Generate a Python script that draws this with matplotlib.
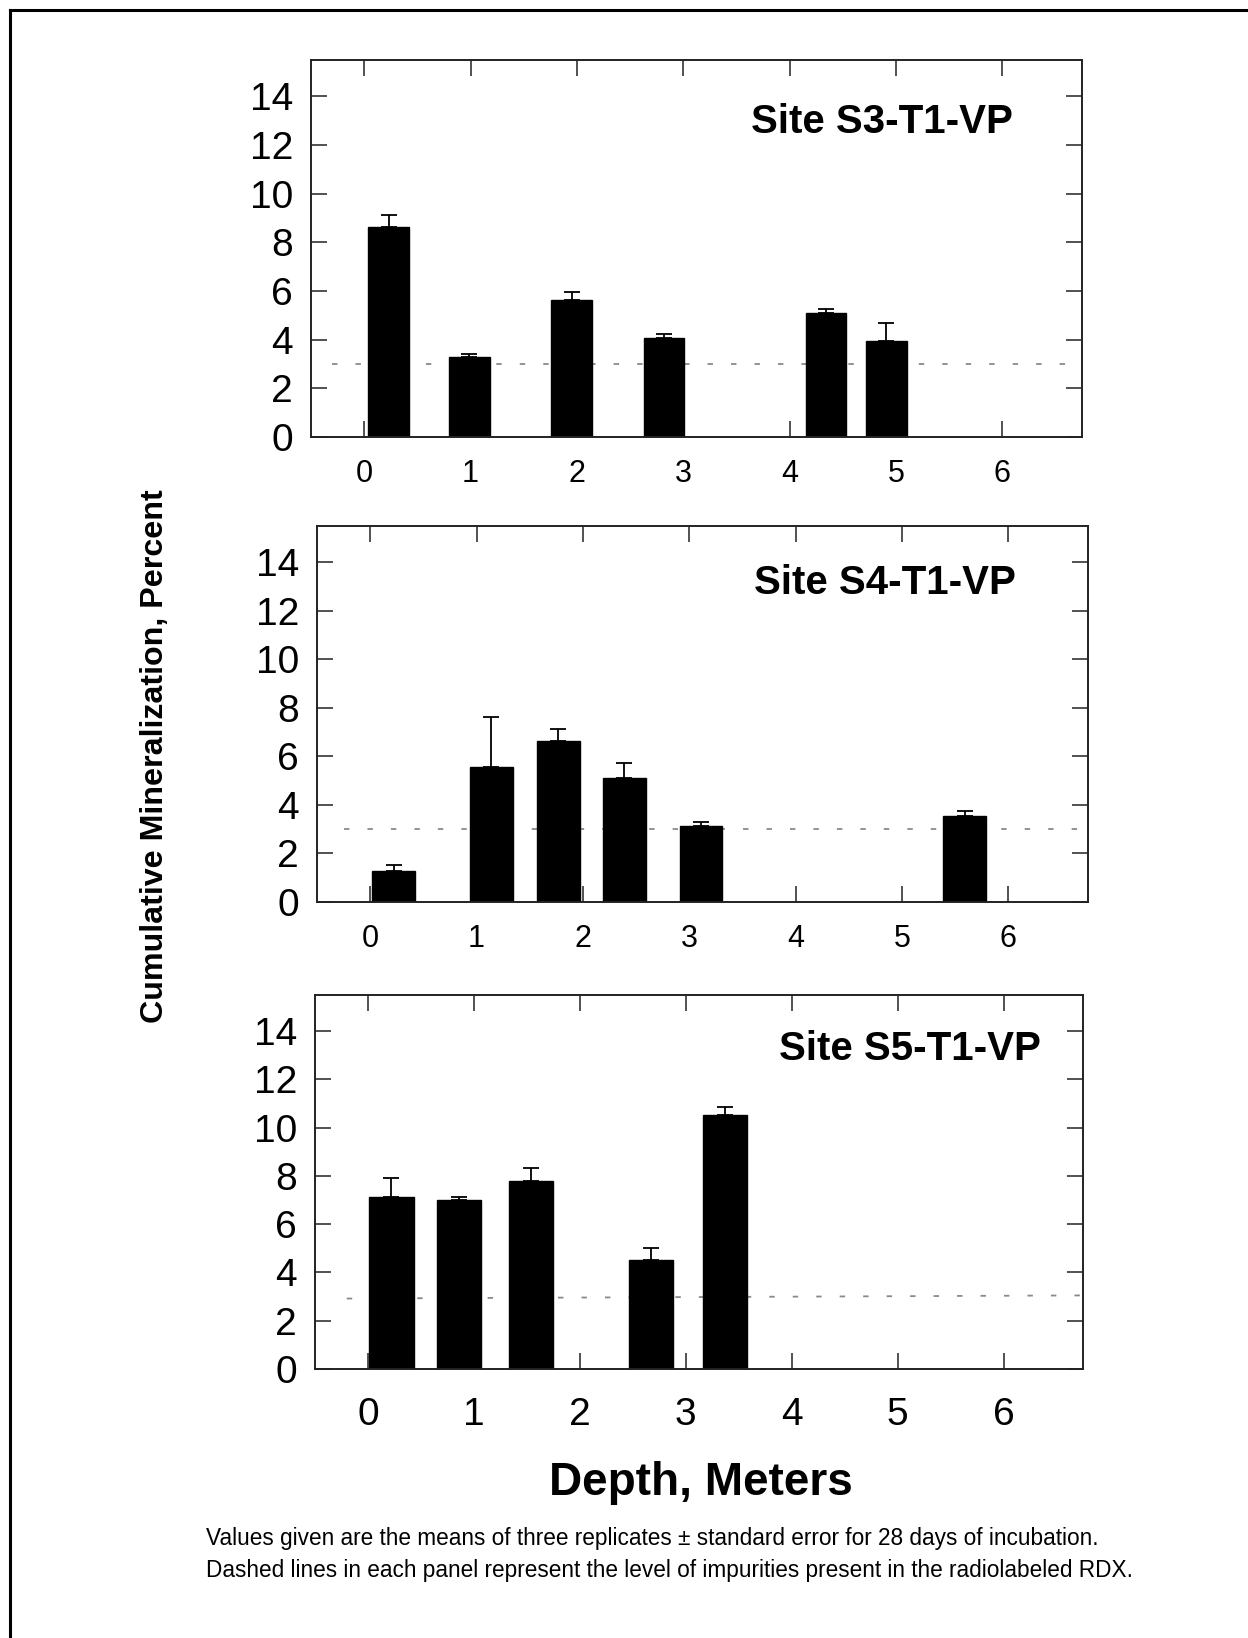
import matplotlib
matplotlib.use('Agg')
import matplotlib.pyplot as plt
from matplotlib.lines import Line2D

plt.rcParams['font.family'] = ['Liberation Sans', 'DejaVu Sans']

# ---------------- data ----------------
site_names = ['Site S3-T1-VP', 'Site S4-T1-VP', 'Site S5-T1-VP']

s3_depth = [0.23, 0.99, 1.95, 2.82, 4.34, 4.91]
s3_mean = [8.63, 3.27, 5.64, 4.05, 5.11, 3.95]
s3_se = [0.51, 0.16, 0.33, 0.20, 0.16, 0.73]

s4_depth = [0.22, 1.14, 1.77, 2.39, 3.11, 5.59]
s4_mean = [1.28, 5.57, 6.63, 5.11, 3.13, 3.54]
s4_se = [0.24, 2.04, 0.52, 0.64, 0.15, 0.22]

s5_depth = [0.22, 0.86, 1.54, 2.67, 3.37]
s5_mean = [7.14, 6.99, 7.78, 4.53, 10.54]
s5_se = [0.78, 0.13, 0.54, 0.49, 0.32]

impurity_start = [3.0, 3.0, 2.92]
impurity_end = [3.0, 3.0, 3.05]

x_ticks = [0, 1, 2, 3, 4, 5, 6]
y_ticks = [0, 2, 4, 6, 8, 10, 12, 14]

depths = [s3_depth, s4_depth, s5_depth]
means = [s3_mean, s4_mean, s5_mean]
ses = [s3_se, s4_se, s5_se]

# ---------------- layout ----------------
W, H = 1248, 1638
fig = plt.figure(figsize=(W / 100, H / 100), dpi=100)

# pixel boxes: left, top, width, height
boxes = [(311, 60, 771, 377), (317, 526, 771, 376), (315, 995, 768, 374)]
bar_widths = [0.38, 0.40, 0.42]
dash_start = [-0.30, -0.25, -0.20]
label_pos = [(0.910, 0.836), (0.907, 0.849), (0.945, 0.856)]
xlab_size = [22, 22, 28]
xlab_pad = [16, 16, 20]

for i in range(3):
    l, t, w, h = boxes[i]
    ax = fig.add_axes([l / W, 1 - (t + h) / H, w / W, h / H])
    ax.set_xlim(-0.5, 6.75)
    ax.set_ylim(0, 15.5)

    ax.plot([dash_start[i], 6.75], [impurity_start[i], impurity_end[i]],
            color='#8a8a8a', lw=1.3, dashes=(3, 10), zorder=1)

    ax.bar(depths[i], means[i], width=bar_widths[i], color='black',
           edgecolor='black', zorder=2)
    ax.errorbar(depths[i], means[i], yerr=[[0] * len(ses[i]), ses[i]],
                fmt='none', ecolor='black', elinewidth=1.3, capsize=6,
                capthick=1.3, zorder=3)

    ax.set_xticks(x_ticks)
    ax.set_xticklabels([str(v) for v in x_ticks])
    ax.set_yticks(y_ticks)
    ax.set_yticklabels([str(v) for v in y_ticks])
    ax.tick_params(axis='both', direction='in', length=11.5, width=1.2,
                   color='#333333', top=True, right=True)
    ax.tick_params(axis='y', labelsize=28, pad=13)
    ax.tick_params(axis='x', labelsize=xlab_size[i], pad=xlab_pad[i])
    for sp in ax.spines.values():
        sp.set_linewidth(1.4)
        sp.set_color('#222222')

    ax.text(label_pos[i][0], label_pos[i][1], site_names[i],
            transform=ax.transAxes, ha='right', va='center',
            fontsize=29, fontweight='bold')

# axis labels
fig.text(155 / W, 1 - 756 / H, 'Cumulative Mineralization, Percent',
         rotation=90, ha='center', va='center', fontsize=23.2,
         fontweight='bold')
fig.text(701 / W, 1 - 1483 / H, 'Depth, Meters', ha='center', va='center',
         fontsize=33, fontweight='bold')

# footnote
fig.text(206 / W, 1 - 1539 / H,
         'Values given are the means of three replicates \u00b1 standard error for 28 days of incubation.',
         ha='left', va='center', fontsize=16.3)
fig.text(206 / W, 1 - 1570 / H,
         'Dashed lines in each panel represent the level of impurities present in the radiolabeled RDX.',
         ha='left', va='center', fontsize=16.3)

# outer frame (top and left edges)
fig.add_artist(Line2D([9.7 / W, 1.0], [1 - 9.7 / H, 1 - 9.7 / H],
                      transform=fig.transFigure, color='black', lw=2.2))
fig.add_artist(Line2D([9.7 / W, 9.7 / W], [1 - 9.7 / H, 0.0],
                      transform=fig.transFigure, color='black', lw=2.2))

fig.savefig('out.png', dpi=100)
